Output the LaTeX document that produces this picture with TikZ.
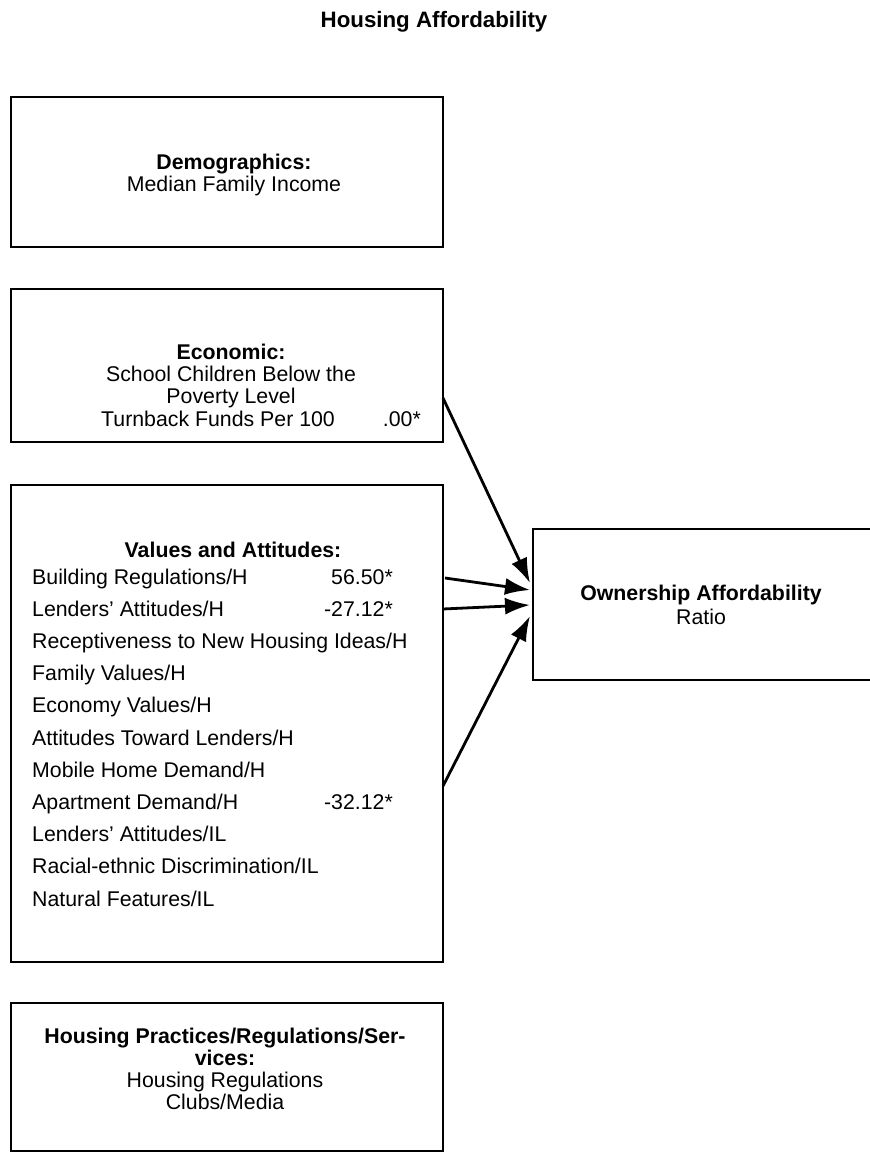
\documentclass[tikz,border=0pt]{standalone}
\usepackage{fontspec}
\setmainfont{Liberation Sans}
\usetikzlibrary{arrows.meta}
\begin{document}
\begin{tikzpicture}[x=1pt,y=-1pt,
  box/.style={draw,line width=2pt,rectangle,inner sep=0pt,anchor=north west},
  txt/.style={inner sep=0pt,anchor=base,align=center,font=\fontsize{21.3}{22}\selectfont},
  ltxt/.style={inner sep=0pt,anchor=base west,font=\fontsize{21.3}{22}\selectfont},
  rtxt/.style={inner sep=0pt,anchor=base east,font=\fontsize{21.3}{22}\selectfont},
  arr/.style={line width=2.8pt,-{Latex[length=25pt,width=17pt]}}]
\useasboundingbox (0,0) rectangle (870,1154);
% title
\node[txt,font=\fontsize{22.3}{23}\selectfont\bfseries] (title) at (434,27) {Housing Affordability};
% boxes
\node[box,minimum width=432pt,minimum height=150pt] (demo) at (10,96) {};
\node[box,minimum width=432pt,minimum height=153pt] (econ) at (10,288) {};
\node[box,minimum width=432pt,minimum height=477pt] (vals) at (10,484) {};
\node[box,minimum width=432pt,minimum height=148pt] (hous) at (10,1002) {};
\node[box,minimum width=345pt,minimum height=151pt] (own) at (532,528) {};
% demographics text
\node[txt] (demot) at (234,191) {\textbf{Demographics:}\\Median Family Income};
% economic text
\node[txt] (econt) at (231,403) {\textbf{Economic:}\\School Children Below the\\Poverty Level};
\node[ltxt] (econl) at (101,426) {Turnback Funds Per 100};
\node[rtxt] (econv) at (421,426) {.00*};
% values text
\node[txt] (valst) at (233,557) {\textbf{Values and Attitudes:}};
\foreach \i/\t in {0/{Building Regulations/H},1/{Lenders' Attitudes/H},2/{Receptiveness to New Housing Ideas/H},3/{Family Values/H},4/{Economy Values/H},5/{Attitudes Toward Lenders/H},6/{Mobile Home Demand/H},7/{Apartment Demand/H},8/{Lenders' Attitudes/IL},9/{Racial-ethnic Discrimination/IL},10/{Natural Features/IL}}
  \node[ltxt] (v\i) at (32,584+32.2*\i) {\t};
\node[rtxt] (n0) at (393,584) {56.50*};
\node[rtxt] (n1) at (393,616.2) {-27.12*};
\node[rtxt] (n7) at (393,809.4) {-32.12*};
% housing practices text
\node[txt] (houst) at (225,1109) {\textbf{Housing Practices/Regulations/Ser-}\\\textbf{vices:}\\Housing Regulations\\Clubs/Media};
% ownership text
\node[txt,font=\fontsize{21.3}{24}\selectfont] (ownt) at (701,624) {\textbf{Ownership Affordability}\\Ratio};
% connector endpoints
\coordinate (s1) at (443,398);
\coordinate (s2) at (445,578);
\coordinate (s3) at (443,609);
\coordinate (s4) at (443,786);
\coordinate (t1) at (530,583);
\coordinate (t2) at (530,590);
\coordinate (t3) at (530,605);
\coordinate (t4) at (530,616);
\draw[arr] (s1) -- (t1);
\draw[arr] (s2) -- (t2);
\draw[arr] (s3) -- (t3);
\draw[arr] (s4) -- (t4);
\end{tikzpicture}
\end{document}
